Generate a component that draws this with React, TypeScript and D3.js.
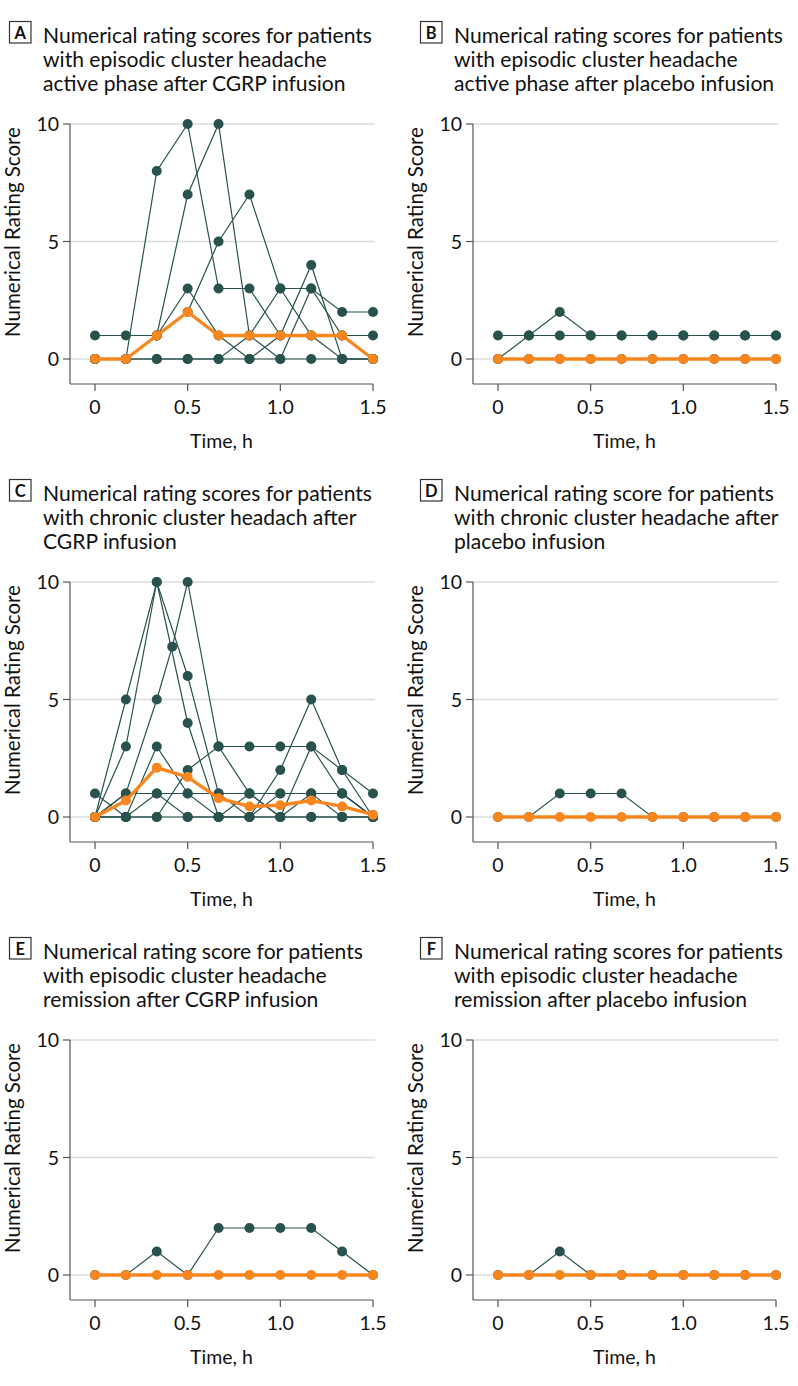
import React, { useRef, useEffect } from 'react';
import * as d3 from 'd3';

// time points in minutes (axis is in hours)
const minutes = [0, 10, 20, 30, 40, 50, 60, 70, 80, 90];
const minutesC3 = [0, 10, 20, 25, 30, 40, 50, 60, 70, 80, 90];
const xTicks = [0, 0.5, 1.0, 1.5];
const xTickLabels = ['0', '0.5', '1.0', '1.5'];
const yTicks = [0, 5, 10];

// A: episodic active phase, CGRP
const aPatients = [
  [1, 1, 1, 2, 5, 7, 3, 3, 2, 2],
  [0, 0, 8, 10, 3, 3, 1, 1, 1, 1],
  [0, 0, 1, 7, 10, 1, 0, 3, 1, 0],
  [0, 0, 1, 3, 1, 0, 1, 4, 0, 0],
  [0, 0, 0, 0, 0, 1, 3, 1, 0, 0],
  [0, 0, 0, 0, 0, 0, 0, 0, 0, 0],
];
const aSummary = [0, 0, 1, 2, 1, 1, 1, 1, 1, 0];

// B: episodic active phase, placebo
const bPatients = [
  [1, 1, 1, 1, 1, 1, 1, 1, 1, 1],
  [0, 1, 2, 1, 1, 1, 1, 1, 1, 1],
  [0, 0, 0, 0, 0, 0, 0, 0, 0, 0],
];
const bSummary = [0, 0, 0, 0, 0, 0, 0, 0, 0, 0];

// C: chronic, CGRP
const cPatients = [
  [0, 5, 10, 6, 1, 0, 0, 0, 0, 0],
  [0, 3, 10, 4, 0, 1, 1, 1, 1, 0],
  [0, 0, 0, 2, 3, 3, 3, 3, 2, 1],
  [0, 0, 3, 1, 1, 1, 0, 1, 1, 0],
  [1, 0, 1, 0, 0, 0, 2, 5, 2, 0],
  [0, 1, 1, 1, 0, 0, 1, 1, 0, 0],
  [0, 0, 0, 0, 0, 0, 0, 0, 0, 0],
];
const cPatientExtra = [0, 1, 5, 7.25, 10, 3, 1, 0, 3, 1, 0];
const cSummary = [0, 0.7, 2.1, 1.7, 0.8, 0.45, 0.5, 0.7, 0.45, 0.1];

// D: chronic, placebo
const dPatients = [
  [0, 0, 1, 1, 1, 0, 0, 0, 0, 0],
];
const dSummary = [0, 0, 0, 0, 0, 0, 0, 0, 0, 0];

// E: remission, CGRP
const ePatients = [
  [0, 0, 1, 0, 2, 2, 2, 2, 1, 0],
];
const eSummary = [0, 0, 0, 0, 0, 0, 0, 0, 0, 0];

// F: remission, placebo
const fPatients = [
  [0, 0, 1, 0, 0, 0, 0, 0, 0, 0],
];
const fSummary = [0, 0, 0, 0, 0, 0, 0, 0, 0, 0];

const DARK = '#28524e';
const ORANGE = '#f7861e';
const FONT = 'Lato, "Open Sans", sans-serif';

type Series = { t: number[]; v: number[] };

interface Panel {
  letter: string;
  title: string[];
  patients: Series[];
  summary: number[];
  col: number;
  row: number;
}

const toSeries = (vals: number[]): Series => ({ t: minutes, v: vals });

const panels: Panel[] = [
  { letter: 'A', col: 0, row: 0, patients: aPatients.map(toSeries), summary: aSummary,
    title: ['Numerical rating scores for patients', 'with episodic cluster headache', 'active phase after CGRP infusion'] },
  { letter: 'B', col: 1, row: 0, patients: bPatients.map(toSeries), summary: bSummary,
    title: ['Numerical rating scores for patients', 'with episodic cluster headache', 'active phase after placebo infusion'] },
  { letter: 'C', col: 0, row: 1, patients: [...cPatients.map(toSeries), { t: minutesC3, v: cPatientExtra }], summary: cSummary,
    title: ['Numerical rating scores for patients', 'with chronic cluster headach after', 'CGRP infusion'] },
  { letter: 'D', col: 1, row: 1, patients: dPatients.map(toSeries), summary: dSummary,
    title: ['Numerical rating score for patients', 'with chronic cluster headache after', 'placebo infusion'] },
  { letter: 'E', col: 0, row: 2, patients: ePatients.map(toSeries), summary: eSummary,
    title: ['Numerical rating score for patients', 'with episodic cluster headache', 'remission after CGRP infusion'] },
  { letter: 'F', col: 1, row: 2, patients: fPatients.map(toSeries), summary: fSummary,
    title: ['Numerical rating scores for patients', 'with episodic cluster headache', 'remission after placebo infusion'] },
];

const W = 798;
const H = 1386;

const App: React.FC = () => {
  const svgRef = useRef<SVGSVGElement>(null);

  useEffect(() => {
    if (!svgRef.current) return;
    const svg = d3.select(svgRef.current);
    svg.selectAll('*').remove();

    // plot frame (per panel, relative to panel origin)
    const axisX = 70;
    const axisY = 384;

    const x = d3.scaleLinear().domain([0, 1.5]).range([95, 373]);
    const y = d3.scaleLinear().domain([0, 10]).range([359, 124]);

    panels.forEach((p) => {
      const ox = p.col === 0 ? 0 : 403;
      const oy = p.row * 458;
      const tx = p.col === 0 ? 0 : 411;
      const g = svg.append('g').attr('transform', `translate(${ox},${oy})`);

      // title block
      const tg = svg.append('g').attr('transform', `translate(${tx},${oy})`);
      tg.append('rect').attr('x', 9.5).attr('y', 21.5).attr('width', 21.5).attr('height', 21.5)
        .attr('fill', 'none').attr('stroke', '#333').attr('stroke-width', 1.2);
      tg.append('text').attr('x', 20.3).attr('y', 38.5).attr('text-anchor', 'middle')
        .attr('font-family', FONT).attr('font-weight', 700).attr('font-size', 16.5)
        .attr('fill', '#111').text(p.letter);
      p.title.forEach((line, i) => {
        tg.append('text').attr('x', 43).attr('y', 42.5 + i * 24)
          .attr('font-family', FONT).attr('font-size', 21.1).attr('fill', '#111').text(line);
      });

      // grid
      g.selectAll('.grid').data(yTicks).enter().append('line')
        .attr('x1', axisX).attr('x2', 375)
        .attr('y1', (d) => y(d)).attr('y2', (d) => y(d))
        .attr('stroke', '#dcdcdc').attr('stroke-width', 1.5);

      // y axis
      g.append('line').attr('x1', axisX).attr('x2', axisX).attr('y1', y(10)).attr('y2', axisY)
        .attr('stroke', '#555').attr('stroke-width', 1.2);
      yTicks.forEach((t) => {
        g.append('line').attr('x1', axisX - 7).attr('x2', axisX).attr('y1', y(t)).attr('y2', y(t))
          .attr('stroke', '#555').attr('stroke-width', 1.2);
        g.append('text').attr('x', axisX - 11).attr('y', y(t) + 7).attr('text-anchor', 'end')
          .attr('font-family', FONT).attr('font-size', 19.5).attr('fill', '#111').text(String(t));
      });
      g.append('text')
        .attr('transform', `translate(20,232) rotate(-90)`)
        .attr('text-anchor', 'middle').attr('font-family', FONT).attr('font-size', 20.5)
        .attr('fill', '#111').text('Numerical Rating Score');

      // x axis
      g.append('line').attr('x1', axisX).attr('x2', x(1.5)).attr('y1', axisY).attr('y2', axisY)
        .attr('stroke', '#555').attr('stroke-width', 1.2);
      xTicks.forEach((t, i) => {
        g.append('line').attr('x1', x(t)).attr('x2', x(t)).attr('y1', axisY).attr('y2', axisY + 7)
          .attr('stroke', '#555').attr('stroke-width', 1.2);
        g.append('text').attr('x', x(t)).attr('y', 414).attr('text-anchor', 'middle')
          .attr('font-family', FONT).attr('font-size', 19.5).attr('fill', '#111').text(xTickLabels[i]);
      });
      g.append('text').attr('x', (axisX + x(1.5)) / 2).attr('y', 448).attr('text-anchor', 'middle')
        .attr('font-family', FONT).attr('font-size', 19.5).attr('fill', '#111').text('Time, h');

      const line = d3.line<[number, number]>().x((d) => x(d[0] / 60)).y((d) => y(d[1]));

      // individual patients
      p.patients.forEach((s) => {
        const pts: [number, number][] = s.v.map((v, i) => [s.t[i], v]);
        g.append('path').attr('d', line(pts)).attr('fill', 'none')
          .attr('stroke', DARK).attr('stroke-width', 1.2);
      });
      p.patients.forEach((s) => {
        g.selectAll(null).data(s.v.map((v, i) => [s.t[i], v] as [number, number])).enter()
          .append('circle').attr('cx', (d) => x(d[0] / 60)).attr('cy', (d) => y(d[1]))
          .attr('r', 5).attr('fill', DARK);
      });

      // summary line
      const sp: [number, number][] = p.summary.map((v, i) => [minutes[i], v]);
      g.append('path').attr('d', line(sp)).attr('fill', 'none')
        .attr('stroke', ORANGE).attr('stroke-width', 3.4).attr('stroke-linejoin', 'round');
      g.selectAll(null).data(sp).enter().append('circle')
        .attr('cx', (d) => x(d[0] / 60)).attr('cy', (d) => y(d[1]))
        .attr('r', 5).attr('fill', ORANGE);
    });
  }, []);

  return (
    <div style={{ position: 'absolute', left: 0, top: 0, background: '#fff' }}>
      <svg ref={svgRef} width={W} height={H} style={{ display: 'block' }} />
    </div>
  );
};

export default App;
